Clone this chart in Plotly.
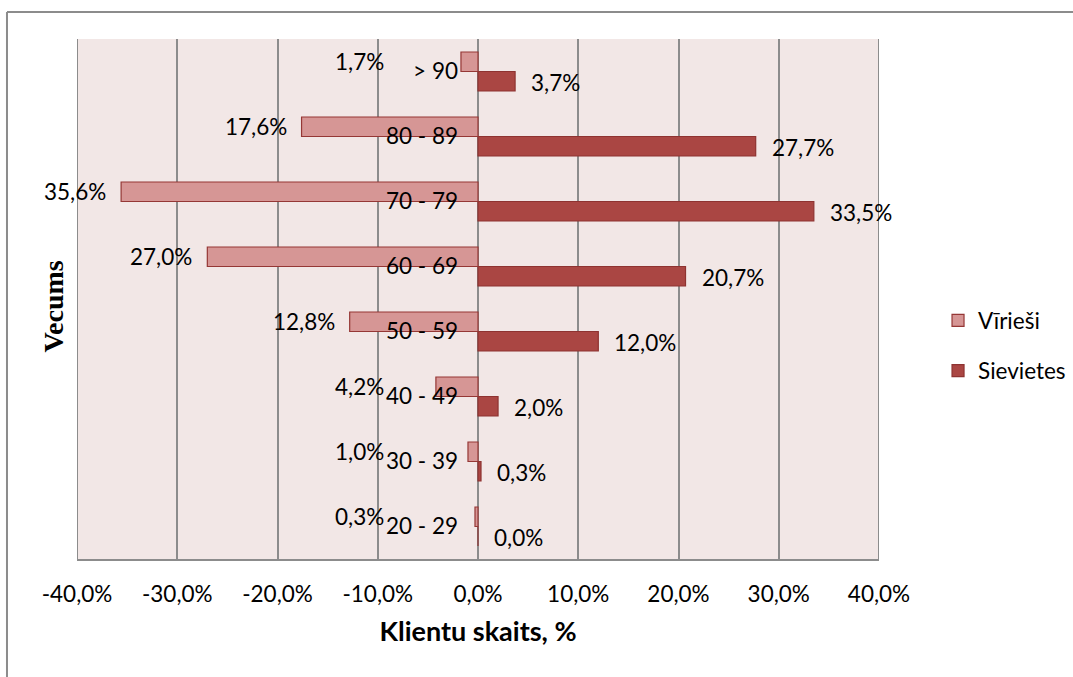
import plotly.graph_objects as go

categories = ["20 - 29", "30 - 39", "40 - 49", "50 - 59", "60 - 69", "70 - 79", "80 - 89", "> 90"]
virieshi = [0.3, 1.0, 4.2, 12.8, 27.0, 35.6, 17.6, 1.7]
sievietes = [0.0, 0.3, 2.0, 12.0, 20.7, 33.5, 27.7, 3.7]
x_ticks = [-40, -30, -20, -10, 0, 10, 20, 30, 40]
x_tick_labels = ["-40,0%", "-30,0%", "-20,0%", "-10,0%", "0,0%", "10,0%", "20,0%", "30,0%", "40,0%"]

FONT = "Lato"
FS = 22.5
GRAY = "#8c8c8c"

def fmt(v):
    return f"{v:.1f}".replace(".", ",") + "%"

fig = go.Figure()
fig.add_trace(go.Bar(
    y=categories, x=sievietes, orientation="h", name="Sievietes",
    marker=dict(color="#AA4643", line=dict(color="#8E3331", width=1.2)),
    legendgroup="s", legendrank=2, hoverinfo="skip",
))
fig.add_trace(go.Bar(
    y=categories, x=[-v for v in virieshi], orientation="h", name="Vīrieši",
    marker=dict(color="#D69695", line=dict(color="#953735", width=1.2)),
    legendgroup="v", legendrank=1, hoverinfo="skip",
))

annotations = []
for c, v in zip(categories, virieshi):
    annotations.append(dict(
        x=min(-v, -7.9), y=c, xref="x", yref="y", text=fmt(v), showarrow=False,
        xanchor="right", yanchor="middle", xshift=-13, yshift=10,
        font=dict(family=FONT, size=FS, color="black"),
    ))
for c, v in zip(categories, sievietes):
    annotations.append(dict(
        x=v, y=c, xref="x", yref="y", text=fmt(v), showarrow=False,
        xanchor="left", yanchor="middle", xshift=14, yshift=-11,
        font=dict(family=FONT, size=FS, color="black"),
    ))

fig.update_layout(
    width=1073, height=677,
    margin=dict(l=77, r=194, t=39, b=118, autoexpand=False),
    paper_bgcolor="white", plot_bgcolor="#F2E7E6",
    barmode="group", bargap=0.4, bargroupgap=0,
    font=dict(family=FONT, size=FS, color="black"),
    showlegend=True,
    legend=dict(
        x=1.0736, y=0.41, xanchor="left", yanchor="middle",
        traceorder="grouped", tracegroupgap=18,
        font=dict(family=FONT, size=FS, color="black"),
        bgcolor="rgba(0,0,0,0)",
    ),
    xaxis=dict(
        range=[-40, 40], tickvals=x_ticks, ticktext=x_tick_labels,
        showgrid=True, gridcolor=GRAY, gridwidth=2,
        zeroline=True, zerolinecolor=GRAY, zerolinewidth=2,
        showline=True, linecolor=GRAY, linewidth=2,
        ticks="", ticklabelstandoff=14,
        tickfont=dict(family=FONT, size=FS),
        title=dict(text="<b>Klientu skaits, %</b>", font=dict(family=FONT, size=27), standoff=16),
        fixedrange=True,
    ),
    yaxis=dict(
        type="category", categoryorder="array", categoryarray=categories,
        range=[-0.5, len(categories) - 0.5],
        anchor="free", position=0.5, side="left",
        showgrid=False, zeroline=False, showline=False, ticks="",
        ticklabelstandoff=20,
        tickfont=dict(family=FONT, size=FS),
        fixedrange=True,
    ),
    annotations=annotations + [dict(
        x=-0.029, y=0.485, xref="paper", yref="paper", text="<b>Vecums</b>",
        showarrow=False, textangle=-90, xanchor="center", yanchor="middle",
        font=dict(family="Liberation Serif", size=28, color="black"),
    )],
    shapes=[
        dict(type="line", xref="x", yref="paper", x0=-40, x1=-40, y0=0, y1=1, line=dict(color=GRAY, width=2)),
        dict(type="line", xref="x", yref="paper", x0=40, x1=40, y0=0, y1=1, line=dict(color=GRAY, width=2)),
        dict(type="line", xref="paper", yref="paper", x0=-0.0873, x1=1.4, y0=1.0519, y1=1.0519, line=dict(color=GRAY, width=2)),
        dict(type="line", xref="paper", yref="paper", x0=-0.0873, x1=-0.0873, y0=-0.3, y1=1.0519, line=dict(color=GRAY, width=2)),
    ],
)

fig.write_html("out.html")
